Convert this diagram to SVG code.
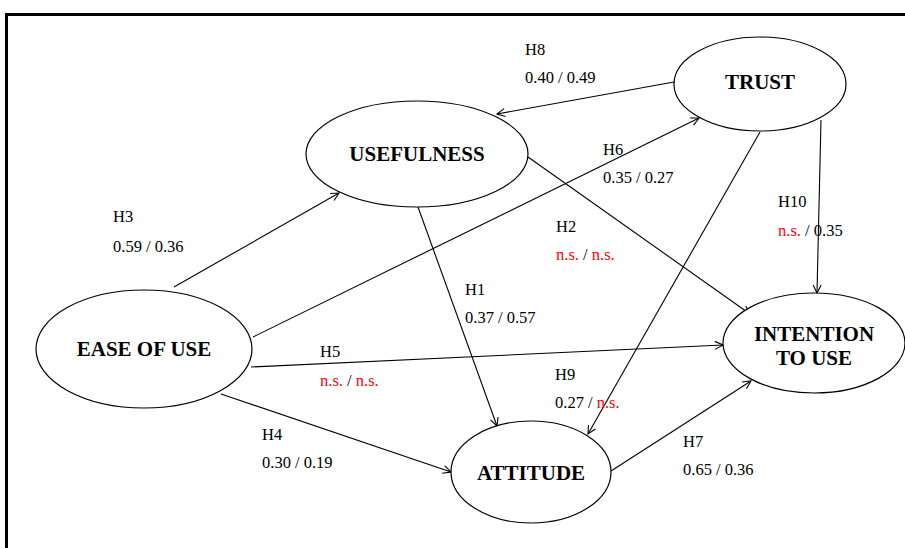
<svg xmlns="http://www.w3.org/2000/svg" width="905" height="548" viewBox="0 0 905 548">
<defs>
<marker id="arr" markerWidth="10" markerHeight="10" refX="9" refY="5" orient="auto" markerUnits="userSpaceOnUse">
<path d="M1,1 L9,5 L1,9" fill="none" stroke="#000" stroke-width="1.1"/>
</marker>
</defs>
<rect width="905" height="548" fill="#fff"/>
<path d="M6.5,548 V14.5 H905" fill="none" stroke="#000" stroke-width="3"/>
<g id="connectors" stroke="#000" stroke-width="1.1" marker-end="url(#arr)">
<line x1="674" y1="82" x2="497" y2="114"/>
<line x1="253" y1="337" x2="699" y2="118"/>
<line x1="174" y1="287" x2="339" y2="193"/>
<line x1="418" y1="207" x2="497" y2="426"/>
<line x1="760" y1="132" x2="588" y2="434"/>
<line x1="821" y1="120" x2="817" y2="293"/>
<line x1="528" y1="157" x2="750" y2="314"/>
<line x1="251" y1="367" x2="723" y2="345"/>
<line x1="221" y1="394" x2="451" y2="472"/>
<line x1="611" y1="471" x2="751" y2="381"/>
</g>
<g fill="#fff" stroke="#000" stroke-width="1.2">
<g id="trust"><ellipse cx="760" cy="84" rx="86" ry="47"/><text x="760" y="89" font-family="Liberation Serif, serif" font-weight="bold" font-size="21" text-anchor="middle" fill="#000" stroke="none">TRUST</text></g>
<g id="usefulness"><ellipse cx="417" cy="154" rx="111" ry="53"/><text x="417" y="161" font-family="Liberation Serif, serif" font-weight="bold" font-size="21" text-anchor="middle" fill="#000" stroke="none">USEFULNESS</text></g>
<g id="ease"><ellipse cx="144" cy="349" rx="108" ry="59"/><text x="144" y="356" font-family="Liberation Serif, serif" font-weight="bold" font-size="21" text-anchor="middle" fill="#000" stroke="none">EASE OF USE</text></g>
<g id="intention"><ellipse cx="814" cy="343" rx="91" ry="50"/><text x="814" y="341" font-family="Liberation Serif, serif" font-weight="bold" font-size="21" text-anchor="middle" fill="#000" stroke="none">INTENTION</text><text x="814" y="365" font-family="Liberation Serif, serif" font-weight="bold" font-size="21" text-anchor="middle" fill="#000" stroke="none">TO USE</text></g>
<g id="attitude"><ellipse cx="531" cy="472" rx="80" ry="51"/><text x="531" y="480" font-family="Liberation Serif, serif" font-weight="bold" font-size="21" text-anchor="middle" fill="#000" stroke="none">ATTITUDE</text></g>
</g>
<g id="labels" font-family="Liberation Serif, serif" font-size="16.5" fill="#000">
<text x="525" y="55">H8</text><text x="525" y="83">0.40 / 0.49</text>
<text x="113" y="222">H3</text><text x="113" y="252">0.59 / 0.36</text>
<text x="603" y="155">H6</text><text x="603" y="183">0.35 / 0.27</text>
<text x="778" y="207">H10</text><text x="778" y="236"><tspan fill="#f00">n.s.</tspan> / 0.35</text>
<text x="556" y="232">H2</text><text x="556" y="260"><tspan fill="#f00">n.s.</tspan> / <tspan fill="#f00">n.s.</tspan></text>
<text x="465" y="295">H1</text><text x="465" y="323">0.37 / 0.57</text>
<text x="320" y="357">H5</text><text x="320" y="386"><tspan fill="#f00">n.s.</tspan> / <tspan fill="#f00">n.s.</tspan></text>
<text x="555" y="380">H9</text><text x="555" y="408">0.27 / <tspan fill="#f00">n.s.</tspan></text>
<text x="262" y="440">H4</text><text x="262" y="468">0.30 / 0.19</text>
<text x="683" y="447">H7</text><text x="683" y="475">0.65 / 0.36</text>
</g>
</svg>
